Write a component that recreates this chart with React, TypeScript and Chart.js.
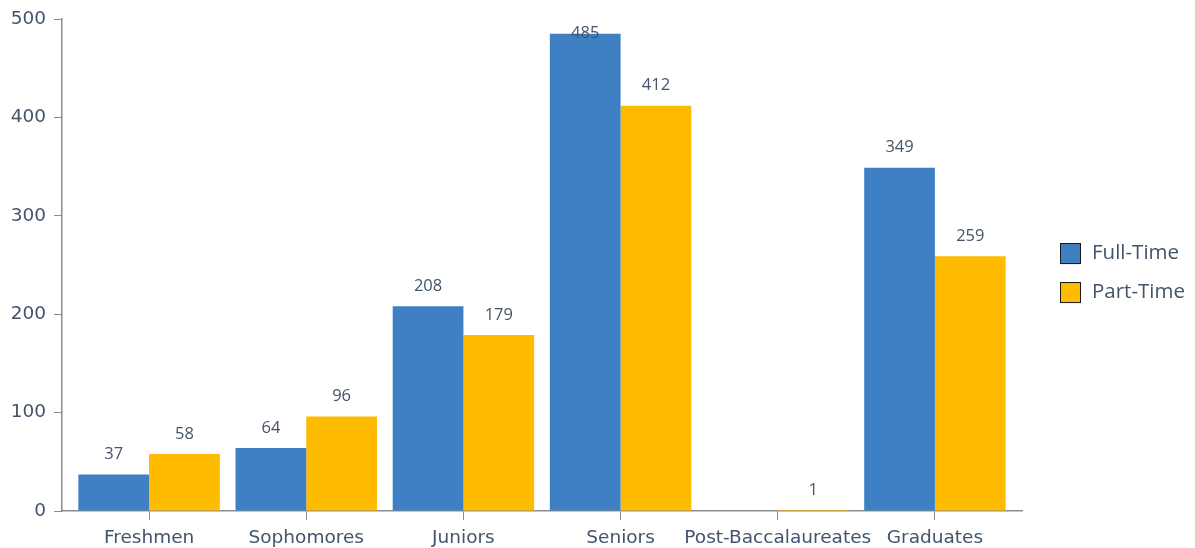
import { useEffect, useRef } from "react";
import { Chart, registerables } from "chart.js";

Chart.register(...registerables);

const categories = ["Freshmen", "Sophomores", "Juniors", "Seniors", "Post-Baccalaureates", "Graduates"];
const fullTime: (number | null)[] = [37, 64, 208, 485, null, 349];
const partTime: (number | null)[] = [58, 96, 179, 412, 1, 259];
const seriesLabels = ["Full-Time", "Part-Time"];
const seriesColors = ["#3F80C5", "#FFBB00"];
const yMin = 0;
const yMax = 500;
const yStep = 100;

const TEXT = "#44546A";
const AXIS = "#8C8C8C";

const insetPlugin = {
  id: "insetX",
  afterLayout(chart: any) {
    const x = chart.scales.x;
    const inset = 8.5;
    x._startPixel = x.left + inset;
    x._endPixel = x.right - inset;
    x._length = x._endPixel - x._startPixel;
  },
};

const labelPlugin = {
  id: "valueLabels",
  afterDatasetsDraw(chart: any) {
    const ctx = chart.ctx;
    const area = chart.chartArea;
    ctx.save();
    ctx.font = "16.5px 'Open Sans'";
    ctx.fillStyle = TEXT;
    ctx.textAlign = "center";
    ctx.textBaseline = "middle";
    chart.data.datasets.forEach((ds: any, di: number) => {
      const meta = chart.getDatasetMeta(di);
      meta.data.forEach((bar: any, i: number) => {
        const v = ds.data[i];
        if (v === null || v === undefined) return;
        const y = Math.max(bar.y - 20, area.top + 14);
        ctx.fillText(String(v), bar.x, y);
      });
    });
    ctx.restore();
  },
};

const legendPlugin = {
  id: "sideLegend",
  afterDraw(chart: any) {
    const ctx = chart.ctx;
    const area = chart.chartArea;
    const mid = (area.top + area.bottom) / 2 + 8;
    ctx.save();
    chart.data.datasets.forEach((ds: any, i: number) => {
      const cy = mid + (i - 0.5) * 39;
      const bx = area.right + 38;
      ctx.fillStyle = ds.backgroundColor;
      ctx.fillRect(bx, cy - 10.5, 21, 21);
      ctx.strokeStyle = "#1A1A1A";
      ctx.lineWidth = 1;
      ctx.strokeRect(bx + 0.5, cy - 10, 20, 20);
      ctx.fillStyle = TEXT;
      ctx.font = "20.5px 'Open Sans'";
      ctx.textAlign = "left";
      ctx.textBaseline = "middle";
      ctx.fillText(ds.label, bx + 32, cy);
    });
    ctx.restore();
  },
};

export default function App() {
  const ref = useRef<HTMLCanvasElement>(null);
  useEffect(() => {
    document.body.style.margin = "0";
    const canvas = ref.current!;
    const chart = new Chart(canvas, {
      type: "bar",
      data: {
        labels: categories,
        datasets: [
          { label: seriesLabels[0], data: fullTime, backgroundColor: seriesColors[0], borderWidth: 0 },
          { label: seriesLabels[1], data: partTime, backgroundColor: seriesColors[1], borderWidth: 0 },
        ],
      },
      options: {
        responsive: false,
        animation: false,
        devicePixelRatio: 1,
        layout: { padding: { top: 17, right: 173, left: 0, bottom: 0 } },
        datasets: { bar: { barPercentage: 1, categoryPercentage: 0.9 } },
        plugins: { legend: { display: false }, tooltip: { enabled: false } },
        scales: {
          x: {
            offset: true,
            grid: { display: true, offset: false, drawOnChartArea: false, drawTicks: true, tickLength: 9, color: AXIS },
            border: { display: true, color: AXIS, width: 1.5 },
            ticks: { color: TEXT, font: { family: "'DejaVu Sans'", size: 18.5 }, padding: 7, maxRotation: 0, autoSkip: false },
            afterFit: (s: any) => { s.height = 37; },
          },
          y: {
            min: yMin,
            max: yMax,
            grid: { display: true, drawOnChartArea: false, drawTicks: true, tickLength: 8, color: AXIS },
            border: { display: true, color: AXIS, width: 1.5 },
            ticks: { stepSize: yStep, color: TEXT, font: { family: "'DejaVu Sans'", size: 18.5 }, padding: 8 },
            afterFit: (s: any) => { s.width = 62; },
          },
        },
      },
      plugins: [insetPlugin, labelPlugin, legendPlugin],
    });
    return () => chart.destroy();
  }, []);
  return <canvas ref={ref} width={1195} height={548} style={{ display: "block" }} />;
}
